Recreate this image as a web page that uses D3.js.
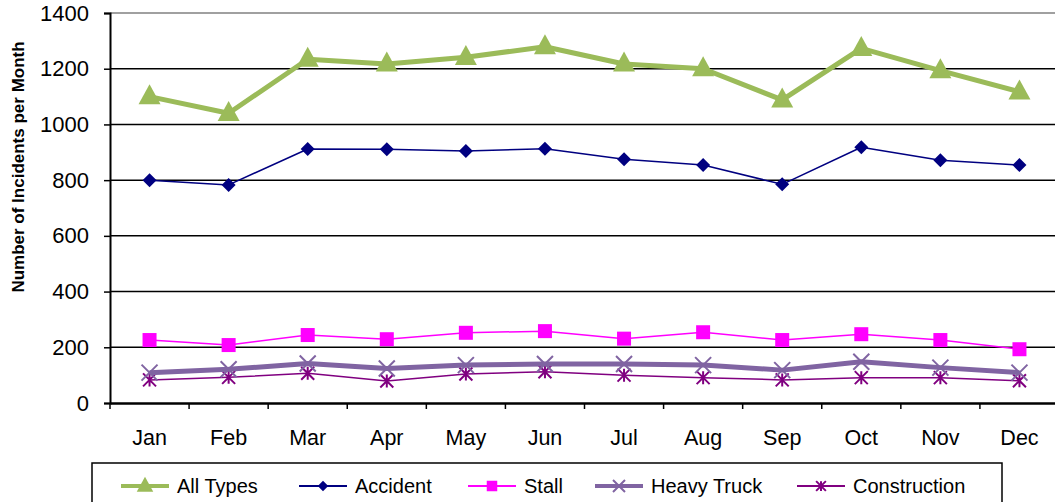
<!DOCTYPE html>
<html><head><meta charset="utf-8">
<script src="https://cdn.jsdelivr.net/npm/d3@7"></script>
<style>body{margin:0;background:#fff}svg{display:block;font-family:"Liberation Sans",Arial,sans-serif}</style>
</head><body><svg id="c" width="1055" height="502"></svg>
<script>
const months = ["Jan","Feb","Mar","Apr","May","Jun","Jul","Aug","Sep","Oct","Nov","Dec"];
const yTicks = [0,200,400,600,800,1000,1200,1400];
const allTypes = [1100,1040,1234,1217,1241,1279,1217,1200,1088,1273,1193,1117];
const accident = [800,783,912,911,905,913,875,854,785,918,871,854];
const stall = [226,208,244,229,252,258,231,254,226,247,226,193];
const heavyTruck = [109,121,142,124,136,140,140,136,118,148,127,109];
const construction = [83,92,107,79,104,112,100,91,83,91,91,80];
const seriesNames = ["All Types","Accident","Stall","Heavy Truck","Construction"];

const series = [
  {name:seriesNames[0], values:allTypes, color:"#9BBB59", width:5, marker:"triangle"},
  {name:seriesNames[1], values:accident, color:"#000080", width:1.5, marker:"diamond"},
  {name:seriesNames[2], values:stall, color:"#FF00FF", width:1.5, marker:"square"},
  {name:seriesNames[3], values:heavyTruck, color:"#8064A2", width:5, marker:"x"},
  {name:seriesNames[4], values:construction, color:"#800080", width:1.5, marker:"star"}
];

const svg = d3.select("#c");
const L=110, R=1059, T=13, B=403;
const x = d3.scaleBand().domain(months).range([L,R]);
const y = d3.scaleLinear().domain([0,1400]).range([B,T]);

// gridlines
svg.append("g").selectAll("line").data(yTicks.filter(d=>d>0)).join("line")
  .attr("x1",L).attr("x2",R).attr("y1",d=>y(d)).attr("y2",d=>y(d))
  .attr("stroke",d=>d===1400?"#808080":"#000").attr("stroke-width",1.5);

// y axis
const yAxis = svg.append("g").attr("transform",`translate(${L},0)`)
  .call(d3.axisLeft(y).tickValues(yTicks).tickSize(6).tickFormat(d3.format("d")));
yAxis.select(".domain").attr("stroke","#000").attr("stroke-width",2);
yAxis.selectAll(".tick line").attr("stroke","#000").attr("stroke-width",1.5);
yAxis.selectAll("text").attr("font-size",22).attr("fill","#000").attr("x",-21)
  .attr("font-family","Liberation Sans, Arial, sans-serif");

// x axis
const xAxis = svg.append("g").attr("transform",`translate(0,${B})`)
  .call(d3.axisBottom(x).tickSize(0).tickPadding(27));
xAxis.select(".domain").attr("stroke","#000").attr("stroke-width",2.5);
xAxis.selectAll("text").attr("font-size",21.5).attr("fill","#000")
  .attr("font-family","Liberation Sans, Arial, sans-serif");
const step = x.step();
svg.append("g").selectAll("line").data(d3.range(months.length+1)).join("line")
  .attr("x1",i=>L+i*step).attr("x2",i=>L+i*step).attr("y1",B).attr("y2",B+6)
  .attr("stroke","#000").attr("stroke-width",1.5);

// y title
svg.append("text").attr("transform","translate(24,167) rotate(-90)")
  .attr("text-anchor","middle").attr("font-size",17).attr("font-weight","bold")
  .text("Number of Incidents per Month");

function drawMarker(g, type, color, s){
  if(type==="triangle"){
    g.append("path").attr("d",`M0,${-s*0.62}L${s*0.55},${s*0.38}L${-s*0.55},${s*0.38}Z`).attr("fill",color);
  } else if(type==="diamond"){
    g.append("path").attr("d",`M0,${-s/2}L${s/2},0L0,${s/2}L${-s/2},0Z`).attr("fill",color);
  } else if(type==="square"){
    g.append("rect").attr("x",-s/2).attr("y",-s/2).attr("width",s).attr("height",s).attr("fill",color);
  } else if(type==="x"){
    g.append("path").attr("d",`M${-s/2},${-s/2}L${s/2},${s/2}M${s/2},${-s/2}L${-s/2},${s/2}`)
      .attr("stroke",color).attr("stroke-width",2);
  } else if(type==="star"){
    g.append("path").attr("d",`M${-s/2},${-s/2}L${s/2},${s/2}M${s/2},${-s/2}L${-s/2},${s/2}M0,${-s/2}L0,${s/2}`)
      .attr("stroke",color).attr("stroke-width",2);
  }
}
const msize = {triangle:20, diamond:14, square:14, x:16, star:13};

const line = d3.line().x((d,i)=>x(months[i])+x.bandwidth()/2).y(d=>y(d));
series.slice().reverse().forEach(s=>{
  svg.append("path").attr("d",line(s.values)).attr("fill","none")
    .attr("stroke",s.color).attr("stroke-width",s.width).attr("stroke-linejoin","round");
  s.values.forEach((v,i)=>{
    const g = svg.append("g").attr("transform",`translate(${x(months[i])+x.bandwidth()/2},${y(v)})`);
    drawMarker(g, s.marker, s.color, msize[s.marker]);
  });
});

// legend
const lg = svg.append("g");
lg.append("rect").attr("x",92).attr("y",463).attr("width",910).attr("height",45)
  .attr("fill","#fff").attr("stroke","#000").attr("stroke-width",1.5);
const legX = [121, 299, 468, 595, 797];
series.forEach((s,i)=>{
  const g = lg.append("g").attr("transform",`translate(${legX[i]},486)`);
  g.append("line").attr("x1",0).attr("x2",48).attr("stroke",s.color).attr("stroke-width",s.width===5?4:2);
  const m = g.append("g").attr("transform","translate(24,0)");
  drawMarker(m, s.marker, s.color, msize[s.marker]*0.75);
  g.append("text").attr("x",56).attr("y",0).attr("dy","0.35em").attr("font-size",20).text(s.name);
});
</script></body></html>
